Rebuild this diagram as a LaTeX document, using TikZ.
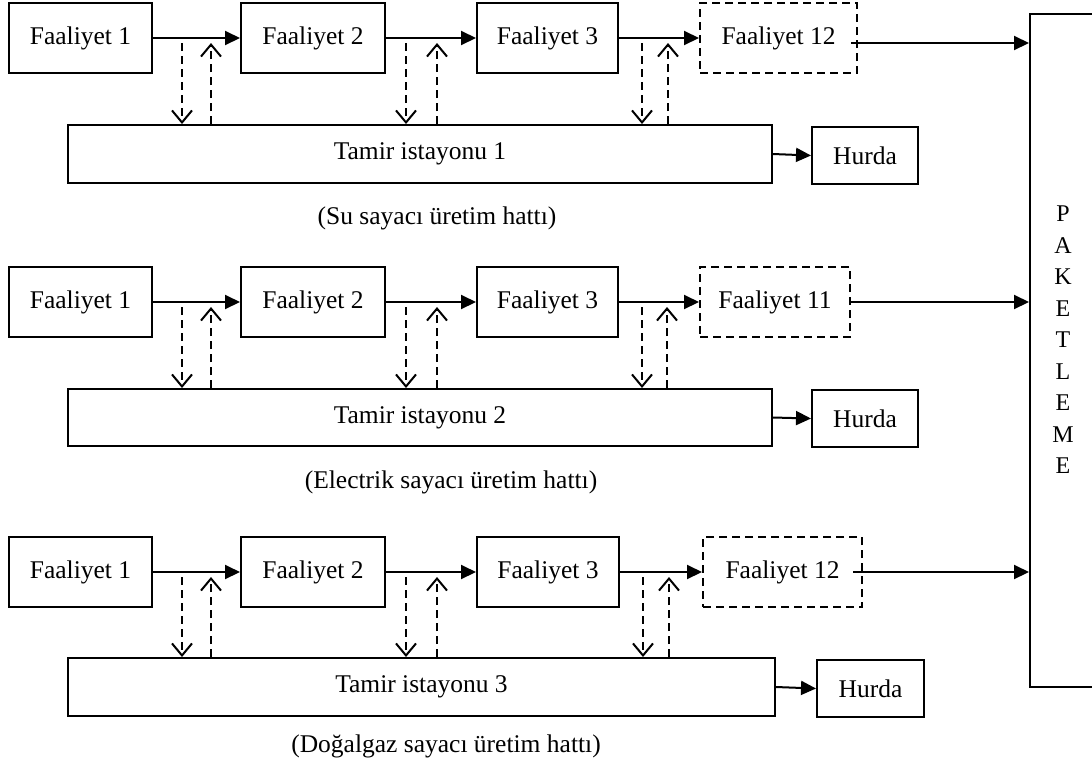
\documentclass[tikz,border=0pt]{standalone}
\usepackage{fontspec}
\setmainfont{Liberation Serif}
\usetikzlibrary{arrows.meta}
\begin{document}
\begin{tikzpicture}[x=1pt,y=-1pt,
 box/.style={draw,line width=2pt,inner sep=0pt,font=\fontsize{25.5}{30}\selectfont},
 dbox/.style={box,dash pattern=on 8pt off 5pt},
 arr/.style={line width=2pt,-{Triangle[length=15pt,width=14pt]}},
 darr/.style={line width=2pt,dash pattern=on 8pt off 5pt,-{Straight Barb[length=12pt,width=20pt]}},
 captext/.style={font=\fontsize{25.5}{30}\selectfont,inner sep=0pt}]
\useasboundingbox (0,0) rectangle (1092,764);
\clip (0,0) rectangle (1092,764);

% PAKETLEME
\node[box,minimum width=66pt,minimum height=673pt] (pak) at (1063,350.5) {};
\node[captext,align=center,font=\fontsize{24}{31.5}\selectfont] (paktext) at (1063,340) {P\\A\\K\\E\\T\\L\\E\\M\\E};

% ---------------- Row 1
\node[box,minimum width=143pt,minimum height=70pt] (a1) at (80.5,38) {Faaliyet 1};
\node[box,minimum width=144pt,minimum height=70pt] (a2) at (313,38) {Faaliyet 2};
\node[box,minimum width=141pt,minimum height=70pt] (a3) at (547.5,38) {Faaliyet 3};
\node[dbox,minimum width=157pt,minimum height=70pt] (a4) at (778.5,38) {Faaliyet 12};
\node[box,minimum width=704pt,minimum height=58pt] (at) at (420,154) {Tamir istayonu 1};
\node[box,minimum width=106pt,minimum height=57pt] (ah) at (865,155.5) {Hurda};
\node[captext] (acap) at (437,218) {(Su sayacı üretim hattı)};
\draw[arr] (a1) -- (a2);
\draw[arr] (a2) -- (a3);
\draw[arr] (a3) -- (a4);
\draw[arr] ([xshift=-7pt,yshift=-5pt]a4.east) -- ([yshift=-5pt]a4.east -| pak.west);
\draw[arr] (at.east) -- (ah.west);
\coordinate (ad1) at (182,43); \coordinate (au1) at (211,43);
\coordinate (ad2) at (406,43); \coordinate (au2) at (437,43);
\coordinate (ad3) at (642,43); \coordinate (au3) at (668,43);
\foreach \i in {1,2,3}{
  \draw[darr] (ad\i) -- (ad\i |- at.north);
  \draw[darr] (au\i |- at.north) -- (au\i);
}

% ---------------- Row 2
\node[box,minimum width=143pt,minimum height=70pt] (b1) at (80.5,302) {Faaliyet 1};
\node[box,minimum width=144pt,minimum height=70pt] (b2) at (313,302) {Faaliyet 2};
\node[box,minimum width=141pt,minimum height=70pt] (b3) at (547.5,302) {Faaliyet 3};
\node[dbox,minimum width=150pt,minimum height=70pt] (b4) at (775,302) {Faaliyet 11};
\node[box,minimum width=704pt,minimum height=57pt] (bt) at (420,417.5) {Tamir istayonu 2};
\node[box,minimum width=106pt,minimum height=57pt] (bh) at (865,418.5) {Hurda};
\node[captext] (bcap) at (451,482) {(Electrik sayacı üretim hattı)};
\draw[arr] (b1) -- (b2);
\draw[arr] (b2) -- (b3);
\draw[arr] (b3) -- (b4);
\draw[arr] (b4.east) -- (b4.east -| pak.west);
\draw[arr] (bt.east) -- (bh.west);
\coordinate (bd1) at (182,307); \coordinate (bu1) at (211,307);
\coordinate (bd2) at (406,307); \coordinate (bu2) at (437,307);
\coordinate (bd3) at (642,307); \coordinate (bu3) at (667,307);
\foreach \i in {1,2,3}{
  \draw[darr] (bd\i) -- (bd\i |- bt.north);
  \draw[darr] (bu\i |- bt.north) -- (bu\i);
}

% ---------------- Row 3
\node[box,minimum width=143pt,minimum height=70pt] (c1) at (80.5,572) {Faaliyet 1};
\node[box,minimum width=144pt,minimum height=70pt] (c2) at (313,572) {Faaliyet 2};
\node[box,minimum width=142pt,minimum height=70pt] (c3) at (548,572) {Faaliyet 3};
\node[dbox,minimum width=159pt,minimum height=70pt] (c4) at (782.5,572) {Faaliyet 12};
\node[box,minimum width=707pt,minimum height=58pt] (ct) at (421.5,687) {Tamir istayonu 3};
\node[box,minimum width=107pt,minimum height=57pt] (ch) at (870.5,688.5) {Hurda};
\node[captext] (ccap) at (446,746) {(Doğalgaz sayacı üretim hattı)};
\draw[arr] (c1) -- (c2);
\draw[arr] (c2) -- (c3);
\draw[arr] (c3) -- (c4);
\draw[arr] ([xshift=-10pt]c4.east) -- (c4.east -| pak.west);
\draw[arr] (ct.east) -- (ch.west);
\coordinate (cd1) at (182,577); \coordinate (cu1) at (211,577);
\coordinate (cd2) at (406,577); \coordinate (cu2) at (437,577);
\coordinate (cd3) at (643,577); \coordinate (cu3) at (669,577);
\foreach \i in {1,2,3}{
  \draw[darr] (cd\i) -- (cd\i |- ct.north);
  \draw[darr] (cu\i |- ct.north) -- (cu\i);
}
\end{tikzpicture}
\end{document}
